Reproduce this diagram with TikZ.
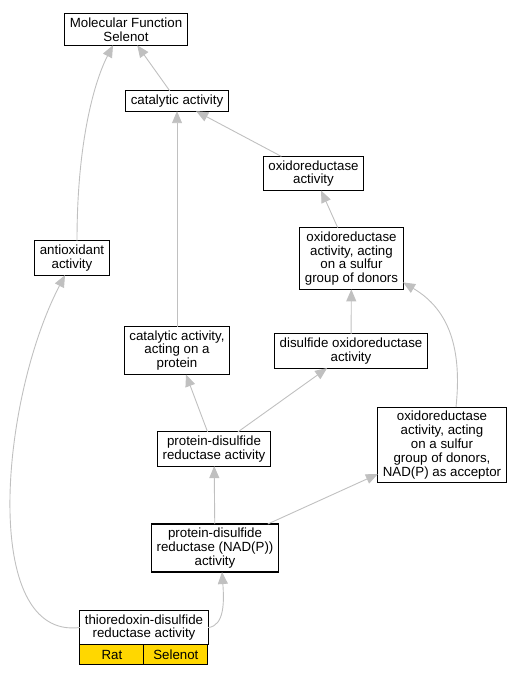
\documentclass[tikz,border=0pt]{standalone}
\usepackage{fontspec}
\setmainfont{Liberation Sans}
\usetikzlibrary{arrows.meta}
\definecolor{edgegray}{HTML}{C0C0C0}
\definecolor{taxgold}{HTML}{FFD700}

\begin{document}
\begin{tikzpicture}[x=1pt, y=-1pt,
    term/.style={draw, line width=1.1pt, outer sep=0pt, fill=white, align=center,
      inner xsep=5pt, inner ysep=4pt, font=\fontsize{13.3}{13.8}\selectfont},
    gene/.style={term, fill=taxgold, minimum width=64pt, minimum height=20pt, inner ysep=1pt},
    link/.style={color=edgegray, line width=0.9pt, -{Triangle[length=12pt,width=10pt]}}]
  \useasboundingbox (0,0) rectangle (520,677);
  % terms, top to bottom
  \node[term] (mf) at (126,29.5) {Molecular Function\\Selenot};
  \node[term] (cat) at (177,101) {catalytic activity};
  \node[term] (oxr) at (313.5,173.5) {oxidoreductase\\activity};
  \node[term] (sulf) at (351.5,258.5) {oxidoreductase\\activity, acting\\on a sulfur\\group of donors};
  \node[term] (aox) at (72,258) {antioxidant\\activity};
  \node[term] (catp) at (177,350.5) {catalytic activity,\\acting on a\\protein};
  \node[term] (dsox) at (351,351) {disulfide oxidoreductase\\activity};
  \node[term] (pdr) at (214,449) {protein-disulfide\\reductase activity};
  \node[term] (nadp) at (442,445) {oxidoreductase\\activity, acting\\on a sulfur\\group of donors,\\NAD(P) as acceptor};
  \node[term] (pdrn) at (215,548) {protein-disulfide\\reductase (NAD(P))\\activity};
  \node[term, minimum width=128pt] (tdr) at (144,627.5) {thioredoxin-disulfide\\reductase activity};
  \node[gene, anchor=north west] (rat) at (tdr.south west) {Rat};
  \node[gene, anchor=north west] (sel) at (rat.north east) {Selenot};
  % is_a links
  \draw[link] (cat) -- (mf);
  \draw[link] ([xshift=5pt]aox.north) .. controls (77,140) and (95,80) .. ([xshift=-13pt]mf.south);
  \draw[link] (oxr) -- (cat);
  \draw[link] (catp) -- (cat);
  \draw[link] (sulf) -- (oxr);
  \draw[link] (dsox) -- (sulf);
  \draw[link] ([xshift=14pt]nadp.north) .. controls (462,350) and (450,310) .. ([yshift=7pt]sulf.south east);
  \draw[link] (pdr) -- (catp);
  \draw[link] (pdr) -- (dsox);
  \draw[link] (pdrn) -- (pdr);
  \draw[link] (pdrn) -- (nadp);
  \draw[link] (tdr.west) .. controls (-20,640) and (0,400) .. ([xshift=-7pt]aox.south);
  \draw[link] (tdr.east) .. controls (225,626) and (224,600) .. ([xshift=7pt]pdrn.south);
\end{tikzpicture}
\end{document}
